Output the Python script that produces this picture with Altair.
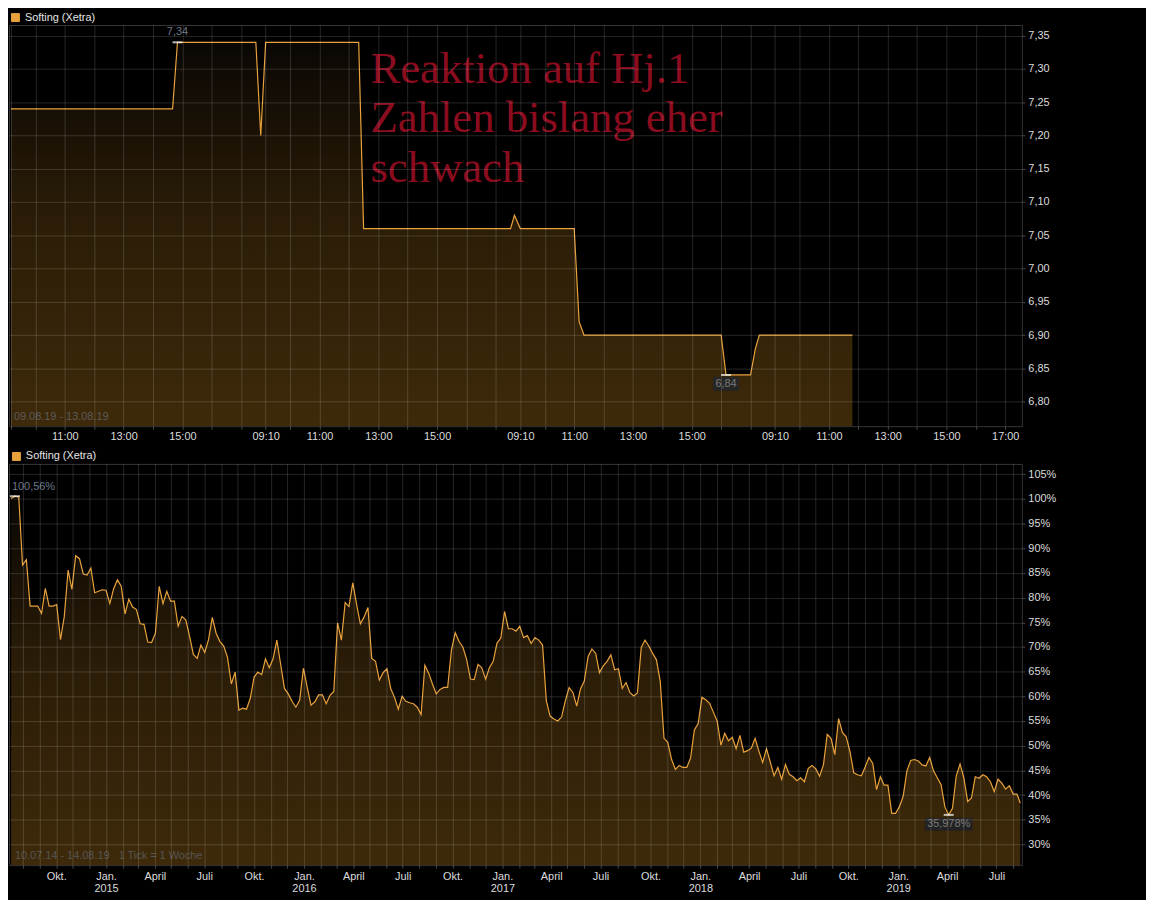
import json
import altair as alt
import pandas as pd

# ---------------- top panel: intraday Softing (Xetra) ----------------
top_days = ["2019-08-09", "2019-08-12", "2019-08-13", "2019-08-14"]
top_times = [
    "2019-08-09 09:10", "2019-08-09 14:40", "2019-08-09 14:50", "2019-08-09 17:30",
    "2019-08-09 17:40", "2019-08-12 09:10", "2019-08-12 12:20", "2019-08-12 12:30",
    "2019-08-12 17:30", "2019-08-12 17:38", "2019-08-13 09:10", "2019-08-13 11:00",
    "2019-08-13 11:10", "2019-08-13 11:20", "2019-08-13 16:00", "2019-08-13 16:10",
    "2019-08-13 17:00", "2019-08-13 17:10", "2019-08-13 17:18", "2019-08-14 09:10",
    "2019-08-14 11:48",
]
top_prices = [
    7.24, 7.24, 7.34, 7.34,
    7.20, 7.34, 7.34, 7.06,
    7.06, 7.08, 7.06, 7.06,
    6.92, 6.90, 6.90, 6.84,
    6.84, 6.88, 6.90, 6.90,
    6.90,
]
top_tick_times = ["09:10", "10:00", "11:00", "12:00", "13:00", "14:00", "15:00", "16:00", "17:00"]
top_label_times = ["09:10", "11:00", "13:00", "15:00"]
top_price_ticks = [6.80, 6.85, 6.90, 6.95, 7.00, 7.05, 7.10, 7.15, 7.20, 7.25, 7.30, 7.35]
top_price_domain = [6.763, 7.366]
top_range_text = "09.08.19 - 13.08.19"
series_name = "Softing (Xetra)"

# ---------------- bottom panel: weekly, in % ----------------
w2014 = [100.1, 100.56, 100.4, 86.6, 87.7, 78.3, 78.3, 78.3, 76.8, 81.9,
         78.3, 78.3, 78.6, 71.5, 76.2, 85.6, 81.7, 88.5, 87.9, 84.8,
         84.6, 86.0, 81.0, 81.3, 81.6]
w2015 = [81.5, 78.8, 81.8, 83.6, 82.3, 76.7, 79.7, 78.1, 77.6, 74.7,
         74.6, 71.0, 70.9, 72.8, 82.3, 78.8, 81.3, 79.3, 79.3, 74.2,
         76.2, 75.5, 72.2, 68.5, 67.7, 70.4, 68.9, 71.5, 76.0, 72.8,
         71.1, 70.2, 67.9, 62.5, 64.9, 57.2, 57.6, 57.4, 59.6, 63.9,
         64.9, 64.4, 67.6, 65.8, 67.6, 71.4, 66.5, 61.6, 60.5, 59.0,
         57.8, 59.2, 65.7]
w2016 = [61.8, 58.2, 58.9, 60.3, 60.3, 58.5, 60.2, 61.0, 74.9, 71.4,
         79.0, 78.2, 83.0, 78.7, 74.7, 76.1, 78.0, 67.7, 67.1, 63.3,
         64.8, 65.6, 61.6, 59.8, 57.4, 60.0, 59.0, 58.7, 58.5, 57.8,
         56.3, 66.3, 64.7, 62.5, 60.5, 61.4, 61.8, 61.8, 69.4, 72.9,
         71.1, 70.0, 67.5, 63.5, 63.4, 66.5, 65.8, 63.5, 65.8, 67.1,
         70.8, 71.8]
w2017 = [77.2, 73.7, 73.7, 73.2, 74.2, 71.9, 72.3, 70.7, 71.9, 71.4,
         70.4, 59.1, 56.0, 55.4, 55.0, 55.8, 59.1, 61.8, 60.8, 58.0,
         61.5, 63.1, 68.1, 69.6, 68.7, 64.8, 66.2, 67.1, 68.4, 65.4,
         65.6, 61.6, 62.8, 60.8, 60.1, 60.7, 69.9, 71.4, 70.2, 68.7,
         67.4, 63.1, 51.5, 50.7, 47.2, 45.2, 46.0, 45.6, 45.6, 47.5,
         53.2, 54.5]
w2018 = [59.8, 59.3, 58.6, 56.8, 55.0, 50.1, 52.5, 51.0, 51.7, 49.4,
         52.1, 48.7, 49.0, 49.5, 51.5, 48.9, 46.6, 49.4, 46.7, 43.9,
         45.6, 43.2, 46.2, 44.2, 43.7, 42.9, 43.5, 42.7, 45.4, 46.0,
         45.3, 43.8, 46.1, 52.3, 51.5, 48.2, 55.5, 52.7, 51.8, 48.8,
         44.5, 44.1, 43.9, 45.7, 47.6, 46.4, 41.1, 43.7, 42.0, 42.0,
         36.3, 36.3]
w2019 = [37.6, 39.7, 44.9, 47.0, 47.2, 46.9, 46.1, 45.9, 47.6, 44.9,
         43.5, 42.1, 37.6, 35.978, 37.3, 43.9, 46.3, 43.5, 38.7, 39.4,
         43.7, 43.4, 44.1, 43.7, 42.7, 40.7, 43.2, 42.4, 41.2, 41.9,
         40.2, 40.2, 38.4]
week_start = "2014-07-10"
week_last = "2019-08-14"
pct_ticks = [30, 35, 40, 45, 50, 55, 60, 65, 70, 75, 80, 85, 90, 95, 100, 105]
pct_domain = [25.8, 107.1]
bot_range_text = "10.07.14 - 14.08.19\u00a0\u00a0\u00a01 Tick = 1 Woche"
headline = ["Reaktion auf Hj.1", "Zahlen bislang eher", "schwach"]

# ---------------- styling ----------------
ORANGE = "#e9a23b"
W, H = 1020, 404
FONT = "Liberation Sans"
SESSION = 520  # axis minutes per trading session (09:00-17:40)


def session_minute(ts):
    t = pd.Timestamp(ts)
    k = top_days.index(t.strftime("%Y-%m-%d"))
    return int(k * SESSION + t.hour * 60 + t.minute - 540)


top_df = pd.DataFrame({
    "m": [session_minute(t) for t in top_times],
    "price": top_prices,
    "series": series_name,
})
top_df["label"] = top_df["price"].map(lambda v: str(v).replace(".", ","))
top_max = top_df.loc[[top_df["price"].idxmax()]]
top_min = top_df.loc[[top_df["price"].idxmin()]]

tick_vals, tick_labs = [], []
for k, d in enumerate(top_days):
    for hm in top_tick_times:
        tick_vals.append(session_minute(f"{d} {hm}"))
        show = hm in top_label_times and not (k == 0 and hm == "09:10")
        if hm == "17:00" and k == len(top_days) - 1:
            show = True
        tick_labs.append(hm if show else "")
top_label_expr = f"{json.dumps(tick_labs)}[indexof({json.dumps(tick_vals)}, datum.value)]"

x_dom = [session_minute("2019-08-09 09:06"), session_minute("2019-08-14 17:34")]

grad = alt.Gradient(
    gradient="linear",
    stops=[
        alt.GradientStop(color="#0a0704", offset=0),
        alt.GradientStop(color="#2a1c07", offset=0.45),
        alt.GradientStop(color="#3e2a0a", offset=1),
    ],
    x1=0, x2=0, y1=0, y2=1,
)


def legend_def(dx):
    return alt.Legend(
        title=None, orient="none", legendX=dx, legendY=-13, padding=0,
        symbolType="square", symbolSize=64, symbolFillColor=ORANGE,
        symbolStrokeColor="#f4dfbd", symbolStrokeWidth=1, symbolOpacity=1,
        labelColor="#e4e4e4", labelFont=FONT, labelFontSize=11, labelOffset=4,
    )


xt = alt.X(
    "m:Q",
    scale=alt.Scale(domain=x_dom, nice=False, zero=False),
    axis=alt.Axis(
        title=None, values=tick_vals, tickCount=1000, labelExpr=top_label_expr, grid=True,
        labelOverlap=False, labelFlush=False, labelSeparation=0,
        tickSize=3, labelPadding=1, zindex=1,
    ),
)
yt = alt.Y(
    "price:Q",
    scale=alt.Scale(domain=top_price_domain, nice=False, zero=False),
    axis=alt.Axis(
        title=None, orient="right", values=top_price_ticks, tickCount=1000,
        labelExpr="replace(format(datum.value, '.2f'), '.', ',')",
        labelOverlap=False, tickSize=3, labelPadding=3, zindex=1,
    ),
)

top_area = alt.Chart(top_df).mark_area(color=grad, clip=True).encode(
    x=xt, y=yt, y2=alt.datum(top_price_domain[0])
)
top_line = alt.Chart(top_df).mark_line(strokeWidth=1.2, clip=True).encode(
    x="m:Q", y="price:Q",
    color=alt.Color("series:N", scale=alt.Scale(range=[ORANGE]), legend=legend_def(1)),
)
top_max_tick = alt.Chart(top_max).mark_tick(
    orient="horizontal", color="white", size=10, thickness=2
).encode(x="m:Q", y="price:Q")
top_max_text = alt.Chart(top_max).mark_text(
    dy=-10, color="#6f7b88", font=FONT, fontSize=11
).encode(x="m:Q", y="price:Q", text="label:N")
top_min_tick = alt.Chart(top_min).mark_tick(
    orient="horizontal", color="white", size=10, thickness=2
).encode(x="m:Q", y="price:Q")
top_min_box = alt.Chart(top_min).mark_rect(
    color="#262626", xOffset=-13, x2Offset=13, yOffset=2, y2Offset=16
).encode(x="m:Q", x2=alt.X2("m"), y="price:Q", y2=alt.Y2("price"))
top_min_text = alt.Chart(top_min).mark_text(
    dy=9, color="#7a7a7a", font=FONT, fontSize=11
).encode(x="m:Q", y="price:Q", text="label:N")
top_range = alt.Chart(pd.DataFrame({"t": [top_range_text]})).mark_text(
    align="left", baseline="middle", color="#5a5a5a", font=FONT, fontSize=11
).encode(x=alt.value(5), y=alt.value(H - 9), text="t:N")
top_head = alt.Chart(pd.DataFrame({"t": [0]})).mark_text(
    align="left", baseline="alphabetic", color="#8b0c1f",
    font="Liberation Serif", fontSize=45, lineHeight=50,
).encode(x=alt.value(364), y=alt.value(58), text=alt.value(headline))

top = alt.layer(
    top_area, top_line, top_max_tick, top_max_text,
    top_min_box, top_min_tick, top_min_text, top_range, top_head,
).properties(width=W, height=H)

# ---------------- bottom chart ----------------
bot_vals = w2014 + w2015 + w2016 + w2017 + w2018 + w2019
bot_dates = list(pd.date_range(week_start, periods=len(bot_vals), freq="7D"))
bot_dates[-1] = pd.Timestamp(week_last)
bot_df = pd.DataFrame({
    "date": [d.strftime("%Y-%m-%dT00:00:00") for d in bot_dates],
    "pct": bot_vals,
    "series": series_name,
})
bot_df["label"] = bot_df["pct"].map(lambda v: str(v).replace(".", ",") + "%")
bot_max = bot_df.loc[[bot_df["pct"].idxmax()]]
bot_min = bot_df.loc[[bot_df["pct"].idxmin()]]

month_expr = (
    "month(datum.value) == 0 ? ['Jan.', timeFormat(datum.value, '%Y')] : "
    "month(datum.value) == 3 ? 'April' : "
    "month(datum.value) == 6 ? 'Juli' : "
    "month(datum.value) == 9 ? 'Okt.' : ''"
)
xb = alt.X(
    "date:T",
    scale=alt.Scale(
        domain=[alt.DateTime(year=2014, month=7, date=6), alt.DateTime(year=2019, month=8, date=17)],
        nice=False,
    ),
    axis=alt.Axis(
        title=None, tickCount={"interval": "month", "step": 1}, labelExpr=month_expr,
        labelOverlap=False, labelFlush=False, labelSeparation=0, grid=True,
        tickSize=3, labelPadding=2, labelLineHeight=13, zindex=1,
    ),
)
yb = alt.Y(
    "pct:Q",
    scale=alt.Scale(domain=pct_domain, nice=False, zero=False),
    axis=alt.Axis(
        title=None, orient="right", values=pct_ticks, tickCount=1000,
        labelExpr="datum.value + '%'",
        labelOverlap=False, tickSize=3, labelPadding=3, zindex=1,
    ),
)

bot_area = alt.Chart(bot_df).mark_area(color=grad, clip=True).encode(
    x=xb, y=yb, y2=alt.datum(pct_domain[0])
)
bot_line = alt.Chart(bot_df).mark_line(strokeWidth=1.2, clip=True).encode(
    x="date:T", y="pct:Q",
    color=alt.Color("series:N", scale=alt.Scale(range=[ORANGE]), legend=legend_def(2)),
)
bot_max_tick = alt.Chart(bot_max).mark_tick(
    orient="horizontal", color="white", size=10, thickness=2
).encode(x="date:T", y="pct:Q")
bot_max_text = alt.Chart(bot_max).mark_text(
    dy=-9, dx=-3, align="left", color="#6b7b8b", font=FONT, fontSize=11
).encode(x="date:T", y="pct:Q", text="label:N")
bot_min_tick = alt.Chart(bot_min).mark_tick(
    orient="horizontal", color="white", size=10, thickness=2
).encode(x="date:T", y="pct:Q")
bot_min_box = alt.Chart(bot_min).mark_rect(
    color="#222222", xOffset=-24, x2Offset=24, yOffset=3, y2Offset=16
).encode(x="date:T", x2=alt.X2("date"), y="pct:Q", y2=alt.Y2("pct"))
bot_min_text = alt.Chart(bot_min).mark_text(
    dy=9.5, color="#777777", font=FONT, fontSize=11
).encode(x="date:T", y="pct:Q", text="label:N")
bot_range = alt.Chart(pd.DataFrame({"t": [bot_range_text]})).mark_text(
    align="left", baseline="middle", color="#555555", font=FONT, fontSize=11
).encode(x=alt.value(6), y=alt.value(H - 9), text="t:N")

bottom = alt.layer(
    bot_area, bot_line, bot_max_tick, bot_max_text,
    bot_min_box, bot_min_tick, bot_min_text, bot_range,
).properties(width=W, height=H)

chart = (
    alt.vconcat(top, bottom, spacing=8)
    .resolve_scale(color="independent")
    .properties(background="#000000", padding={"left": 0, "top": 0, "right": 90, "bottom": 2})
    .configure_view(stroke="#353535", strokeWidth=1)
    .configure_axis(
        labelColor="#dcdcdc", labelFont=FONT, labelFontSize=11,
        gridColor="#ffffff", gridOpacity=0.15, tickColor="#4a4a4a",
        domain=False, labelOverlap=False,
    )
)

chart.save("out.html", embed_options={"renderer": "svg", "actions": False})
